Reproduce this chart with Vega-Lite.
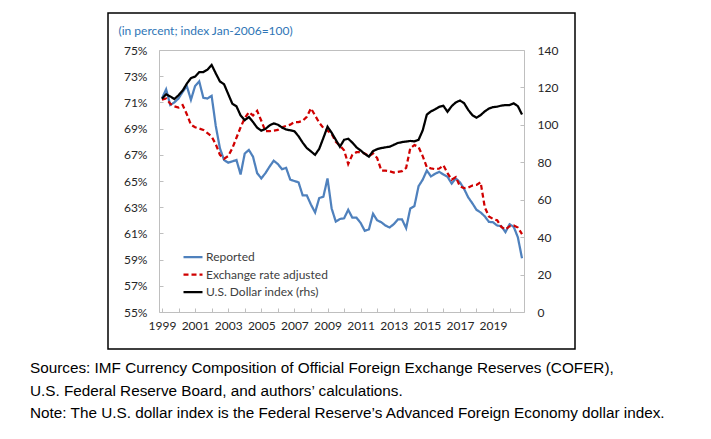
{
"$schema": "https://vega.github.io/schema/vega-lite/v6.json",
"width": 467, "height": 336,
"autosize": {"type": "none"},
"padding": {"left": 108, "top": 13, "right": 136, "bottom": 90},
"background": "white",
"config": {
  "view": {"stroke": "#000000", "strokeWidth": 1.5},
  "font": "Lato",
  "axis": {"grid": false, "domainColor": "#BFBFBF", "tickColor": "#BFBFBF", "labelColor": "#262626", "labelFont": "Lato", "labelFontSize": 12}
},
"title": {
  "text": ["Sources: IMF Currency Composition of Official Foreign Exchange Reserves (COFER),", "U.S. Federal Reserve Board, and authors\u2019 calculations.", "Note: The U.S. dollar index is the Federal Reserve\u2019s Advanced Foreign Economy dollar index."],
  "orient": "bottom", "anchor": "start", "frame": "group", "dx": -78, "offset": 12,
  "font": "Liberation Sans", "fontSize": 15.3, "fontWeight": "normal", "color": "#000000", "lineHeight": 22.5, "baseline": "top"
},
"data": {"values": [
{"t":1999.00,"rep":71.3,"adj":71.2,"usd":114},
{"t":1999.25,"rep":72.0,"adj":71.3,"usd":116.3},
{"t":1999.50,"rep":70.8,"adj":70.9,"usd":115.2},
{"t":1999.75,"rep":71.0,"adj":70.7,"usd":113.8},
{"t":2000.00,"rep":71.3,"adj":70.6,"usd":115.8},
{"t":2000.25,"rep":71.8,"adj":70.8,"usd":118.3},
{"t":2000.50,"rep":72.25,"adj":70.1,"usd":122},
{"t":2000.75,"rep":71.2,"adj":69.3,"usd":125},
{"t":2001.00,"rep":72.25,"adj":69.1,"usd":125.8},
{"t":2001.25,"rep":72.6,"adj":69.0,"usd":128.2},
{"t":2001.50,"rep":71.35,"adj":68.9,"usd":128.2},
{"t":2001.75,"rep":71.3,"adj":68.65,"usd":129.5},
{"t":2002.00,"rep":71.5,"adj":68.4,"usd":132},
{"t":2002.25,"rep":69.2,"adj":67.8,"usd":127.5},
{"t":2002.50,"rep":67.5,"adj":67.0,"usd":123.2},
{"t":2002.75,"rep":66.6,"adj":66.7,"usd":121.7},
{"t":2003.00,"rep":66.4,"adj":66.9,"usd":116.5},
{"t":2003.25,"rep":66.5,"adj":67.5,"usd":111.3},
{"t":2003.50,"rep":66.6,"adj":68.3,"usd":109.9},
{"t":2003.75,"rep":65.5,"adj":69.1,"usd":105},
{"t":2004.00,"rep":67.1,"adj":69.8,"usd":102.5},
{"t":2004.25,"rep":67.37,"adj":70.25,"usd":104.2},
{"t":2004.50,"rep":66.85,"adj":70.0,"usd":101.5},
{"t":2004.75,"rep":65.6,"adj":70.35,"usd":98.5},
{"t":2005.00,"rep":65.2,"adj":69.6,"usd":96.9},
{"t":2005.25,"rep":65.6,"adj":68.8,"usd":97.8},
{"t":2005.50,"rep":66.1,"adj":68.8,"usd":99.7},
{"t":2005.75,"rep":66.55,"adj":68.85,"usd":100.8},
{"t":2006.00,"rep":66.3,"adj":68.9,"usd":100.1},
{"t":2006.25,"rep":65.9,"adj":69.1,"usd":98.6},
{"t":2006.50,"rep":66.0,"adj":69.2,"usd":97.5},
{"t":2006.75,"rep":65.1,"adj":69.3,"usd":97.1},
{"t":2007.00,"rep":65.0,"adj":69.5,"usd":96.6},
{"t":2007.25,"rep":64.9,"adj":69.5,"usd":93.9},
{"t":2007.50,"rep":63.9,"adj":69.6,"usd":90.5},
{"t":2007.75,"rep":63.9,"adj":69.9,"usd":87.6},
{"t":2008.00,"rep":63.2,"adj":70.55,"usd":85.8},
{"t":2008.25,"rep":62.6,"adj":70.0,"usd":84},
{"t":2008.50,"rep":63.7,"adj":69.45,"usd":87.2},
{"t":2008.75,"rep":63.8,"adj":69.05,"usd":93},
{"t":2009.00,"rep":65.2,"adj":68.85,"usd":99},
{"t":2009.25,"rep":62.9,"adj":68.6,"usd":95.8},
{"t":2009.50,"rep":61.9,"adj":68.0,"usd":92},
{"t":2009.75,"rep":62.1,"adj":67.7,"usd":88.3},
{"t":2010.00,"rep":62.15,"adj":67.35,"usd":92},
{"t":2010.25,"rep":62.8,"adj":66.3,"usd":92.6},
{"t":2010.50,"rep":62.2,"adj":67.0,"usd":90.5},
{"t":2010.75,"rep":62.2,"adj":67.2,"usd":88},
{"t":2011.00,"rep":61.8,"adj":67.2,"usd":86.3},
{"t":2011.25,"rep":61.2,"adj":67.1,"usd":84.5},
{"t":2011.50,"rep":61.3,"adj":66.9,"usd":83},
{"t":2011.75,"rep":62.5,"adj":67.1,"usd":86},
{"t":2012.00,"rep":62.0,"adj":66.75,"usd":87},
{"t":2012.25,"rep":61.85,"adj":65.8,"usd":87.6},
{"t":2012.50,"rep":61.6,"adj":65.8,"usd":88},
{"t":2012.75,"rep":61.45,"adj":65.75,"usd":88.3},
{"t":2013.00,"rep":61.7,"adj":65.65,"usd":89.3},
{"t":2013.25,"rep":62.07,"adj":65.7,"usd":90.3},
{"t":2013.50,"rep":62.07,"adj":65.75,"usd":90.8},
{"t":2013.75,"rep":61.4,"adj":66.0,"usd":91.1},
{"t":2014.00,"rep":62.9,"adj":67.5,"usd":91.4},
{"t":2014.25,"rep":63.09,"adj":67.75,"usd":91.2},
{"t":2014.50,"rep":64.6,"adj":67.6,"usd":92},
{"t":2014.75,"rep":65.1,"adj":66.9,"usd":97},
{"t":2015.00,"rep":65.8,"adj":66.05,"usd":105.5},
{"t":2015.25,"rep":65.35,"adj":65.97,"usd":107.2},
{"t":2015.50,"rep":65.55,"adj":65.9,"usd":108.3},
{"t":2015.75,"rep":65.7,"adj":65.95,"usd":109.6},
{"t":2016.00,"rep":65.5,"adj":66.2,"usd":110.2},
{"t":2016.25,"rep":65.33,"adj":65.6,"usd":107},
{"t":2016.50,"rep":64.8,"adj":65.1,"usd":110},
{"t":2016.75,"rep":65.2,"adj":65.3,"usd":112},
{"t":2017.00,"rep":64.9,"adj":64.6,"usd":113},
{"t":2017.25,"rep":64.4,"adj":64.45,"usd":111.6},
{"t":2017.50,"rep":63.75,"adj":64.5,"usd":108},
{"t":2017.75,"rep":63.3,"adj":64.65,"usd":105.2},
{"t":2018.00,"rep":62.8,"adj":64.7,"usd":103.8},
{"t":2018.25,"rep":62.6,"adj":64.9,"usd":105.2},
{"t":2018.50,"rep":62.3,"adj":63.0,"usd":107.2},
{"t":2018.75,"rep":61.88,"adj":62.3,"usd":108.7},
{"t":2019.00,"rep":61.85,"adj":62.1,"usd":109.5},
{"t":2019.25,"rep":61.6,"adj":62.0,"usd":109.7},
{"t":2019.50,"rep":61.55,"adj":61.5,"usd":110.3},
{"t":2019.75,"rep":61.1,"adj":61.3,"usd":110.6},
{"t":2020.00,"rep":61.7,"adj":61.55,"usd":110.6},
{"t":2020.25,"rep":61.5,"adj":61.6,"usd":111.5},
{"t":2020.50,"rep":60.7,"adj":61.45,"usd":110},
{"t":2020.75,"rep":59.1,"adj":60.95,"usd":105.5}
]},
"layer": [
  {
    "transform": [{"fold": ["rep", "adj"], "as": ["key", "value"]}],
    "mark": {"type": "line", "strokeWidth": 2.25},
    "encoding": {
      "x": {"field": "t", "type": "quantitative",
        "scale": {"domain": [1998.82, 2020.87], "range": [51, 416], "nice": false, "zero": false},
        "axis": {"orient": "bottom", "offset": -37, "title": null, "values": [1999,2000,2001,2002,2003,2004,2005,2006,2007,2008,2009,2010,2011,2012,2013,2014,2015,2016,2017,2018,2019,2020],
          "format": "d", "labelExpr": "datum.value % 2 == 1 ? datum.label : ''", "tickSize": -4, "labelPadding": 12, "labelFlush": false, "labelOverlap": false, "domain": true}},
      "y": {"field": "value", "type": "quantitative",
        "scale": {"domain": [55, 75], "range": [299, 37], "nice": false, "zero": false},
        "axis": {"orient": "left", "offset": -51, "values": [55,57,59,61,63,65,67,69,71,73,75], "labelExpr": "datum.value + '%'", "tickSize": -4, "labelPadding": 16,
          "title": "(in percent; index Jan-2006=100)", "titleAngle": 0, "titleAlign": "left", "titleBaseline": "middle", "titleX": -41, "titleY": 17,
          "titleColor": "#2E75B6", "titleFont": "Lato", "titleFontSize": 12, "titleFontWeight": "normal"}},
      "color": {"field": "key", "type": "nominal",
        "scale": {"domain": ["rep", "adj", "usd"], "range": ["#4F81BD", "#D00000", "#000000"]},
        "legend": {"orient": "none", "legendX": 74, "legendY": 233, "title": null, "symbolType": "stroke", "symbolSize": 361, "symbolStrokeWidth": 2.25,
          "labelFont": "Lato", "labelFontSize": 12, "labelColor": "#404040", "rowPadding": 0.5, "padding": 0, "labelOffset": 2,
          "labelExpr": "datum.label == 'rep' ? 'Reported' : datum.label == 'adj' ? 'Exchange rate adjusted' : 'U.S. Dollar index (rhs)'"}},
      "strokeDash": {"field": "key", "type": "nominal",
        "scale": {"domain": ["rep", "adj", "usd"], "range": [[1, 0], [5, 3], [1, 0]]},
        "legend": {"orient": "none", "legendX": 74, "legendY": 233, "title": null, "symbolType": "stroke", "symbolSize": 361, "symbolStrokeWidth": 2.25,
          "labelFont": "Lato", "labelFontSize": 12, "labelColor": "#404040", "rowPadding": 0.5, "padding": 0, "labelOffset": 2,
          "labelExpr": "datum.label == 'rep' ? 'Reported' : datum.label == 'adj' ? 'Exchange rate adjusted' : 'U.S. Dollar index (rhs)'"}}
    }
  },
  {
    "transform": [{"fold": ["usd"], "as": ["key", "value"]}],
    "mark": {"type": "line", "strokeWidth": 2.25},
    "encoding": {
      "x": {"field": "t", "type": "quantitative",
        "axis": {"orient": "top", "offset": -37, "title": null, "labels": false, "ticks": false, "domain": true}},
      "y": {"field": "value", "type": "quantitative",
        "scale": {"domain": [0, 140], "range": [299, 37], "nice": false},
        "axis": {"orient": "right", "offset": -51, "values": [0,20,40,60,80,100,120,140], "tickSize": -4, "labelPadding": 17, "title": null}},
      "color": {"field": "key", "type": "nominal"},
      "strokeDash": {"field": "key", "type": "nominal"}
    }
  }
],
"resolve": {"scale": {"y": "independent"}, "axis": {"x": "independent"}}
}
